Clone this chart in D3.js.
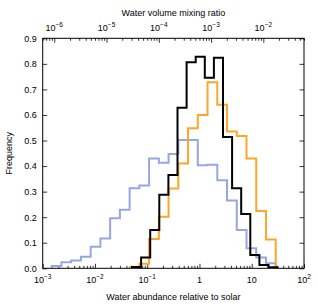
<!DOCTYPE html>
<html>
<head>
<meta charset="utf-8">
<script src="https://cdn.jsdelivr.net/npm/d3@7"></script>
<style>
  body { margin: 0; background: #fff; }
  svg text { font-family: "Liberation Sans", Arial, sans-serif; fill: #000; }
</style>
</head>
<body>
<div id="chart"></div>
<script>
// histogram bins are uniform in log10(abundance): first edge + bin width
const blueStart = -2.828, blueWidth = 0.1864;
const blueFreq = [0.009, 0.024, 0.031, 0.045, 0.084, 0.117, 0.196, 0.229, 0.313, 0.324,
                  0.430, 0.413, 0.447, 0.502, 0.502, 0.403, 0.405, 0.345, 0.265, 0.150,
                  0.078, 0.042, 0.020];

const orangeStart = -1.337, orangeWidth = 0.1864;
const orangeFreq = [0.004, 0.018, 0.115, 0.202, 0.312, 0.410, 0.548, 0.600, 0.728, 0.640,
                    0.535, 0.518, 0.430, 0.224, 0.113];

const blackStart = -1.291, blackWidth = 0.1741;
const blackFreq = [0.005, 0.042, 0.150, 0.288, 0.365, 0.628, 0.806, 0.828, 0.746, 0.824,
                   0.514, 0.313, 0.212, 0.052, 0.013, 0.004];

const yTicks = [0, 0.1, 0.2, 0.3, 0.4, 0.5, 0.6, 0.7, 0.8, 0.9];
const bottomTicks = [{v: 1e-3, b: "10", e: "\u22123"}, {v: 1e-2, b: "10", e: "\u22122"},
                     {v: 1e-1, b: "10", e: "\u22121"}, {v: 1, b: "1", e: ""},
                     {v: 10, b: "10", e: ""}, {v: 1e2, b: "10", e: "2"}];
const topTicks = [{v: 1e-6, e: "\u22126"}, {v: 1e-5, e: "\u22125"}, {v: 1e-4, e: "\u22124"},
                  {v: 1e-3, e: "\u22123"}, {v: 1e-2, e: "\u22122"}];
const solarRatio = 6.0e-4; // volume mixing ratio of solar water

const width = 318, height = 307;
const plot = { left: 42.7, right: 304, top: 38.3, bottom: 268.3 };

const svg = d3.select("#chart").append("svg")
    .attr("width", width)
    .attr("height", height);

const x = d3.scaleLog().domain([1e-3, 1e2]).range([plot.left, plot.right]);
const xTop = d3.scaleLog()
    .domain([1e-3 * solarRatio, 1e2 * solarRatio])
    .range([plot.left, plot.right]);
const y = d3.scaleLinear().domain([0, 0.9]).range([plot.bottom, plot.top]);

// minor ticks for a log scale: 2..9 times every decade in the domain
function minorTicks(scale) {
    const [lo, hi] = scale.domain();
    const out = [];
    for (let p = Math.floor(Math.log10(lo)); p <= Math.ceil(Math.log10(hi)); p++) {
        for (let m = 2; m <= 9; m++) {
            const v = m * Math.pow(10, p);
            if (v >= lo && v <= hi) out.push(v);
        }
    }
    return out;
}

function tickLines(axis, transform) {
    const g = svg.append("g")
        .attr("transform", transform)
        .call(axis.tickFormat(() => ""));
    g.select(".domain").remove();
    g.selectAll(".tick line").attr("stroke", "#000").attr("stroke-width", 0.8);
    return g;
}

// bottom axis ticks (pointing inward)
tickLines(d3.axisBottom(x).tickValues(bottomTicks.map(d => d.v)).tickSize(-4.5),
    `translate(0,${plot.bottom})`);
tickLines(d3.axisBottom(x).tickValues(minorTicks(x)).tickSize(-2.5),
    `translate(0,${plot.bottom})`);

// top axis ticks
tickLines(d3.axisTop(xTop).tickValues(topTicks.map(d => d.v)).tickSize(-4.5),
    `translate(0,${plot.top})`);
tickLines(d3.axisTop(xTop).tickValues(minorTicks(xTop)).tickSize(-2.5),
    `translate(0,${plot.top})`);

// left axis with labels
const yAxis = svg.append("g")
    .attr("transform", `translate(${plot.left},0)`)
    .call(d3.axisLeft(y).tickValues(yTicks).tickSize(-4.5).tickPadding(6)
        .tickFormat(d3.format(".1f")));
yAxis.select(".domain").remove();
yAxis.selectAll(".tick line").attr("stroke", "#000").attr("stroke-width", 0.8);
yAxis.selectAll(".tick text")
    .attr("font-size", "9px")
    .style("font-family", "'Liberation Sans', Arial, sans-serif");

// right axis ticks only
tickLines(d3.axisRight(y).tickValues(yTicks).tickSize(-4.5),
    `translate(${plot.right},0)`);

// bottom tick labels
bottomTicks.forEach(t => {
    const txt = svg.append("text")
        .attr("x", x(t.v))
        .attr("y", 283)
        .attr("text-anchor", "middle")
        .attr("font-size", "9px");
    txt.append("tspan").text(t.b);
    if (t.e) {
        txt.append("tspan")
            .attr("dy", -4)
            .attr("font-size", "6.5px")
            .text(t.e);
    }
});

// top tick labels
topTicks.forEach(t => {
    const txt = svg.append("text")
        .attr("x", xTop(t.v))
        .attr("y", 31)
        .attr("text-anchor", "middle")
        .attr("font-size", "9px");
    txt.append("tspan").text("10");
    txt.append("tspan")
        .attr("dy", -4)
        .attr("font-size", "6.5px")
        .text(t.e);
});

// histograms drawn as steps
function stepPath(start, binW, freq) {
    const p = d3.path();
    p.moveTo(x(Math.pow(10, start)), y(0));
    freq.forEach((f, i) => {
        const x0 = x(Math.pow(10, start + i * binW));
        const x1 = x(Math.pow(10, start + (i + 1) * binW));
        p.lineTo(x0, y(f));
        p.lineTo(x1, y(f));
    });
    p.lineTo(x(Math.pow(10, start + freq.length * binW)), y(0));
    return p.toString();
}

const series = [
    { start: blueStart, w: blueWidth, freq: blueFreq, color: "#97a6e3" },
    { start: orangeStart, w: orangeWidth, freq: orangeFreq, color: "#ffa52a" },
    { start: blackStart, w: blackWidth, freq: blackFreq, color: "#000000" }
];

svg.append("defs").append("clipPath").attr("id", "clip")
    .append("rect")
    .attr("x", plot.left).attr("y", plot.top)
    .attr("width", plot.right - plot.left)
    .attr("height", plot.bottom - plot.top);

svg.append("g").attr("clip-path", "url(#clip)")
    .selectAll("path")
    .data(series)
    .join("path")
    .attr("d", d => stepPath(d.start, d.w, d.freq))
    .attr("fill", "none")
    .attr("stroke", d => d.color)
    .attr("stroke-width", 2)
    .attr("stroke-linejoin", "miter");

// frame
svg.append("rect")
    .attr("x", plot.left).attr("y", plot.top)
    .attr("width", plot.right - plot.left)
    .attr("height", plot.bottom - plot.top)
    .attr("fill", "none")
    .attr("stroke", "#000")
    .attr("stroke-width", 1);

// axis titles
svg.append("text")
    .attr("x", (plot.left + plot.right) / 2)
    .attr("y", 300)
    .attr("text-anchor", "middle")
    .attr("font-size", "9px")
    .text("Water abundance relative to solar");

svg.append("text")
    .attr("x", (plot.left + plot.right) / 2)
    .attr("y", 15.5)
    .attr("text-anchor", "middle")
    .attr("font-size", "9px")
    .text("Water volume mixing ratio");

svg.append("text")
    .attr("transform", `translate(12,${(plot.top + plot.bottom) / 2}) rotate(-90)`)
    .attr("text-anchor", "middle")
    .attr("font-size", "9px")
    .text("Frequency");
</script>
</body>
</html>
